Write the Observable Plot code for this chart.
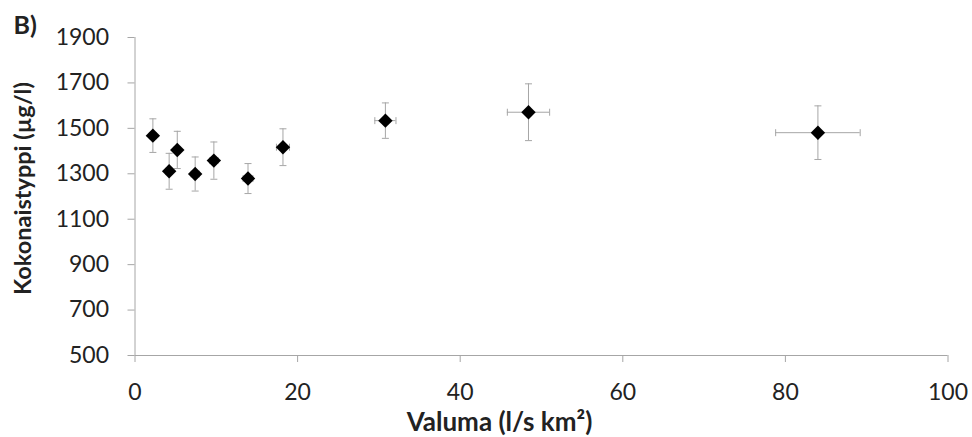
<!DOCTYPE html>
<html><head><meta charset="utf-8">
<script src="https://cdn.jsdelivr.net/npm/d3@7"></script>
<script src="https://cdn.jsdelivr.net/npm/@observablehq/plot@0.6"></script>
<style>
body{margin:0;background:#fff;}
svg{font-family:Lato, "Open Sans", sans-serif;}
</style>
</head><body><div id="chart"></div>
<script>
const valuma = [2.2, 4.2, 5.2, 7.4, 9.7, 13.9, 18.2, 30.8, 48.4, 84.0];
const valumaErr = [0.4, 0.4, 0.4, 0.5, 0.5, 0.6, 0.8, 1.3, 2.6, 5.2];
const typpi = [1468, 1311, 1405, 1299, 1358, 1279, 1417, 1534, 1571, 1481];
const typpiErr = [74, 79, 82, 75, 82, 66, 81, 78, 125, 118];
const xTicks = [0, 20, 40, 60, 80, 100];
const yTicks = [500, 700, 900, 1100, 1300, 1500, 1700, 1900];

const data = valuma.map((v, i) => ({x: v, xe: valumaErr[i], y: typpi[i], ye: typpiErr[i]}));
const capH = {draw(ctx, size){ const w = Math.sqrt(size/Math.PI); ctx.moveTo(-w,0); ctx.lineTo(w,0);} };
const capV = {draw(ctx, size){ const w = Math.sqrt(size/Math.PI); ctx.moveTo(0,-w); ctx.lineTo(0,w);} };
const errColor = "#a6a6a6";

const chart = Plot.plot({
  width: 972, height: 437,
  marginLeft: 134.5, marginRight: 24.5, marginTop: 37, marginBottom: 82,
  style: {fontFamily: "Lato, 'Open Sans', sans-serif", fontSize: "23px", background: "#fff", color: "#222"},
  x: {domain: [0, 100]},
  y: {domain: [500, 1900]},
  marks: [
    Plot.ruleY([500], {stroke: "#a6a6a6", strokeWidth: 1}),
    Plot.ruleX([0], {stroke: "#a6a6a6", strokeWidth: 1}),
    Plot.axisX({ticks: xTicks, tickSize: 7, stroke: "#a6a6a6", tickPadding: 21, fill: "#222", tickFormat: d => String(d), label: null}),
    Plot.axisY({ticks: yTicks, tickSize: 7, stroke: "#a6a6a6", tickPadding: 19, fill: "#222", tickFormat: d => String(d), label: null}),
    Plot.ruleX(data, {x: "x", y1: d => d.y - d.ye, y2: d => d.y + d.ye, stroke: errColor, strokeWidth: 1}),
    Plot.ruleY(data, {y: "y", x1: d => d.x - d.xe, x2: d => d.x + d.xe, stroke: errColor, strokeWidth: 1}),
    Plot.dot(data, {x: "x", y: d => d.y - d.ye, symbol: capH, r: 3.5, stroke: errColor, strokeWidth: 1, fill: "none"}),
    Plot.dot(data, {x: "x", y: d => d.y + d.ye, symbol: capH, r: 3.5, stroke: errColor, strokeWidth: 1, fill: "none"}),
    Plot.dot(data, {x: d => d.x - d.xe, y: "y", symbol: capV, r: 3.5, stroke: errColor, strokeWidth: 1, fill: "none"}),
    Plot.dot(data, {x: d => d.x + d.xe, y: "y", symbol: capV, r: 3.5, stroke: errColor, strokeWidth: 1, fill: "none"}),
    Plot.dot(data, {x: "x", y: "y", symbol: "diamond2", r: 6.5, fill: "#000", stroke: "none"}),
    Plot.text(["Valuma (l/s km²)"], {frameAnchor: "bottom", textAnchor: "middle", lineAnchor: "middle", dx: -42, dy: 67, fontSize: 26, fontWeight: "bold", fill: "#222"}),
    Plot.text(["Kokonaistyppi (µg/l)"], {frameAnchor: "left", textAnchor: "middle", lineAnchor: "middle", dx: -111.5, dy: -8, rotate: -90, fontSize: 23.5, fontWeight: "bold", fill: "#222"}),
    Plot.text(["B)"], {frameAnchor: "top-left", textAnchor: "start", lineAnchor: "middle", dx: -121.5, dy: -12, fontSize: 25, fontWeight: "bold", fill: "#222"})
  ]
});
document.getElementById("chart").appendChild(chart);
</script>
</body></html>
